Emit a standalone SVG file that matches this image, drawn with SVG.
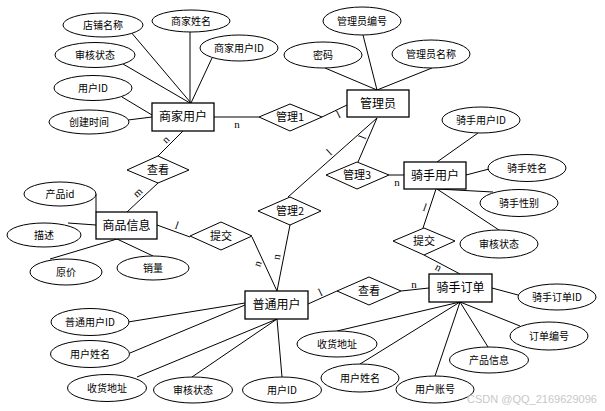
<svg xmlns="http://www.w3.org/2000/svg" width="605" height="411" viewBox="0 0 605 411">
<style>
  .bg { fill: #ffffff; }
  .ent rect { fill: #ffffff; stroke: #000000; stroke-width: 1.3; }
  .rel polygon { fill: #ffffff; stroke: #000000; stroke-width: 1; }
  .attr ellipse { fill: #ffffff; stroke: #000000; stroke-width: 1; }
  .conn line { stroke: #000000; stroke-width: 1; }
  text { font-family: "Noto Sans CJK SC", "Noto Sans", sans-serif; fill: #000000; text-anchor: middle; }
  .ent text { font-size: 12px; }
  .rel text { font-size: 11px; }
  .attr text { font-size: 10px; }
  .card { font-family: "Liberation Serif", serif; font-size: 11px; }
  .wm { font-family: "Liberation Sans", sans-serif; font-size: 11px; fill: #c8c8c8; }
</style>
<rect class="bg" x="0" y="0" width="605" height="411"/>

<g id="connectors" class="conn">
  <!-- 商家用户 attributes -->
  <line x1="130" y1="31" x2="191" y2="103"/>
  <line x1="190" y1="32" x2="190" y2="103"/>
  <line x1="123" y1="64" x2="190" y2="103"/>
  <line x1="212" y1="58" x2="191" y2="103"/>
  <line x1="122" y1="97" x2="152" y2="115"/>
  <line x1="128" y1="120" x2="152" y2="117"/>
  <!-- 管理员 attributes -->
  <line x1="325" y1="68" x2="377" y2="90"/>
  <line x1="363" y1="35" x2="377" y2="90"/>
  <line x1="432" y1="68" x2="377" y2="90"/>
  <!-- relationships -->
  <line x1="214" y1="117" x2="259" y2="117"/>
  <line x1="322" y1="117" x2="347" y2="105"/>
  <line x1="377" y1="118" x2="288" y2="197"/>
  <line x1="377" y1="118" x2="358" y2="162"/>
  <line x1="389" y1="175" x2="404" y2="175"/>
  <line x1="183" y1="131" x2="158" y2="156"/>
  <line x1="158" y1="183" x2="127" y2="212"/>
  <line x1="157" y1="225" x2="190" y2="237"/>
  <line x1="252" y1="237" x2="277" y2="291"/>
  <line x1="290" y1="225" x2="277" y2="291"/>
  <line x1="308" y1="304" x2="337" y2="291"/>
  <line x1="401" y1="291" x2="429" y2="288"/>
  <line x1="436" y1="189" x2="423" y2="228"/>
  <line x1="424" y1="255" x2="460" y2="274"/>
  <!-- 商品信息 attributes -->
  <line x1="96" y1="194" x2="96" y2="212"/>
  <line x1="68" y1="223" x2="96" y2="225"/>
  <line x1="50" y1="259" x2="117" y2="239"/>
  <line x1="117" y1="239" x2="153" y2="256"/>
  <!-- 普通用户 attributes -->
  <line x1="128" y1="322" x2="245" y2="303"/>
  <line x1="130" y1="353" x2="245" y2="305"/>
  <line x1="137" y1="377" x2="277" y2="319"/>
  <line x1="192" y1="377" x2="277" y2="319"/>
  <line x1="277" y1="319" x2="282" y2="377"/>
  <!-- 骑手用户 attributes -->
  <line x1="478" y1="133" x2="437" y2="162"/>
  <line x1="466" y1="175" x2="489" y2="169"/>
  <line x1="437" y1="189" x2="493" y2="192"/>
  <line x1="437" y1="189" x2="502" y2="232"/>
  <!-- 骑手订单 attributes -->
  <line x1="492" y1="288" x2="518" y2="295"/>
  <line x1="460" y1="302" x2="520" y2="326"/>
  <line x1="460" y1="302" x2="488" y2="347"/>
  <line x1="460" y1="302" x2="337" y2="331"/>
  <line x1="460" y1="302" x2="360" y2="364"/>
  <line x1="460" y1="302" x2="435" y2="376"/>
  <!-- cardinalities -->
  <text class="card" x="237" y="128">n</text>
  <text class="card" x="338" y="118" transform="rotate(-26 338 114)">l</text>
  <text class="card" x="329" y="156" transform="rotate(-42 329 152)">l</text>
  <text class="card" x="362" y="141" transform="rotate(-67 362 137)">l</text>
  <text class="card" x="397" y="186">n</text>
  <text class="card" x="166" y="143" transform="rotate(-45 166 140)">n</text>
  <text class="card" x="138" y="196" transform="rotate(-43 138 193)">m</text>
  <text class="card" x="177" y="229" transform="rotate(20 177 225)">l</text>
  <text class="card" x="258" y="267" transform="rotate(-70 258 264)">n</text>
  <text class="card" x="277" y="260" transform="rotate(-79 277 257)">n</text>
  <text class="card" x="320" y="296" transform="rotate(-26 320 292)">l</text>
  <text class="card" x="414" y="288">n</text>
  <text class="card" x="425" y="211" transform="rotate(20 425 207)">l</text>
  <text class="card" x="438" y="271" transform="rotate(28 438 268)">n</text>
</g>

<!-- entities -->
<g id="merchant" class="ent"><rect x="152" y="103" width="62" height="28"/><text x="183" y="121">商家用户</text></g>
<g id="admin" class="ent"><rect x="347" y="90" width="62" height="27"/><text x="378" y="108">管理员</text></g>
<g id="rider" class="ent"><rect x="404" y="162" width="62" height="27"/><text x="435" y="180">骑手用户</text></g>
<g id="product" class="ent"><rect x="96" y="212" width="61" height="27"/><text x="126.5" y="230">商品信息</text></g>
<g id="user" class="ent"><rect x="245" y="291" width="63" height="28"/><text x="276.5" y="309">普通用户</text></g>
<g id="order" class="ent"><rect x="429" y="274" width="63" height="28"/><text x="460.5" y="292">骑手订单</text></g>

<!-- relationships -->
<g id="rel-manage1" class="rel"><polygon points="259,117 290,104 322,117 290,131"/><text x="290" y="121">管理1</text></g>
<g id="rel-view1" class="rel"><polygon points="127,170 158,156 189,170 158,183"/><text x="158" y="174">查看</text></g>
<g id="rel-manage3" class="rel"><polygon points="326,175 357,162 389,175 357,189"/><text x="357" y="179">管理3</text></g>
<g id="rel-manage2" class="rel"><polygon points="258,211 290,197 321,211 290,225"/><text x="290" y="215">管理2</text></g>
<g id="rel-submit1" class="rel"><polygon points="190,236 221,222 252,236 221,250"/><text x="221" y="240">提交</text></g>
<g id="rel-submit2" class="rel"><polygon points="393,241 424,228 455,241 424,255"/><text x="424" y="245">提交</text></g>
<g id="rel-view2" class="rel"><polygon points="337,291 369,277 401,291 369,305"/><text x="369" y="295">查看</text></g>

<!-- attributes -->
<g id="a-shopname" class="attr"><ellipse cx="103" cy="25" rx="40" ry="12"/><text x="103" y="28.5">店铺名称</text></g>
<g id="a-mername" class="attr"><ellipse cx="191" cy="21" rx="39" ry="11"/><text x="191" y="24.5">商家姓名</text></g>
<g id="a-merstatus" class="attr"><ellipse cx="95" cy="55" rx="40" ry="12.5"/><text x="95" y="58.5">审核状态</text></g>
<g id="a-merid" class="attr"><ellipse cx="239" cy="48" rx="39" ry="13"/><text x="239" y="51.5">商家用户ID</text></g>
<g id="a-meruid" class="attr"><ellipse cx="93" cy="88" rx="39" ry="12.5"/><text x="93" y="91.5">用户ID</text></g>
<g id="a-created" class="attr"><ellipse cx="89" cy="122" rx="40" ry="12"/><text x="89" y="125.5">创建时间</text></g>

<g id="a-pwd" class="attr"><ellipse cx="323" cy="55" rx="39" ry="13"/><text x="323" y="58.5">密码</text></g>
<g id="a-adminno" class="attr"><ellipse cx="362" cy="21" rx="39" ry="14"/><text x="362" y="24.5">管理员编号</text></g>
<g id="a-adminname" class="attr"><ellipse cx="431" cy="54" rx="39" ry="14"/><text x="431" y="57.5">管理员名称</text></g>

<g id="a-riderid" class="attr"><ellipse cx="481" cy="120" rx="39" ry="13"/><text x="481" y="123.5">骑手用户ID</text></g>
<g id="a-ridername" class="attr"><ellipse cx="527" cy="168" rx="39" ry="13.5"/><text x="527" y="171.5">骑手姓名</text></g>
<g id="a-ridersex" class="attr"><ellipse cx="519" cy="203" rx="39" ry="13.5"/><text x="519" y="206.5">骑手性别</text></g>
<g id="a-riderstatus" class="attr"><ellipse cx="499" cy="244" rx="39" ry="14"/><text x="499" y="247.5">审核状态</text></g>

<g id="a-pid" class="attr"><ellipse cx="60" cy="194" rx="36" ry="12"/><text x="60" y="197.5">产品id</text></g>
<g id="a-desc" class="attr"><ellipse cx="44" cy="235" rx="37" ry="12"/><text x="44" y="238.5">描述</text></g>
<g id="a-price" class="attr"><ellipse cx="66" cy="272" rx="36" ry="13"/><text x="66" y="275.5">原价</text></g>
<g id="a-sales" class="attr"><ellipse cx="153" cy="268" rx="36" ry="12"/><text x="153" y="271.5">销量</text></g>

<g id="a-userid" class="attr"><ellipse cx="90" cy="322" rx="39" ry="13.5"/><text x="90" y="325.5">普通用户ID</text></g>
<g id="a-username" class="attr"><ellipse cx="90" cy="354" rx="39.5" ry="13.5"/><text x="90" y="357.5">用户姓名</text></g>
<g id="a-useraddr" class="attr"><ellipse cx="107" cy="388" rx="39.5" ry="13.5"/><text x="107" y="391.5">收货地址</text></g>
<g id="a-userstatus" class="attr"><ellipse cx="193" cy="390" rx="39.5" ry="13"/><text x="193" y="393.5">审核状态</text></g>
<g id="a-useruid" class="attr"><ellipse cx="282" cy="390" rx="39.5" ry="13"/><text x="282" y="393.5">用户ID</text></g>

<g id="a-orderid" class="attr"><ellipse cx="557" cy="297" rx="39" ry="13"/><text x="557" y="300.5">骑手订单ID</text></g>
<g id="a-orderno" class="attr"><ellipse cx="549" cy="336" rx="39" ry="14"/><text x="549" y="339.5">订单编号</text></g>
<g id="a-prodinfo" class="attr"><ellipse cx="489" cy="360" rx="39.5" ry="13"/><text x="489" y="363.5">产品信息</text></g>
<g id="a-orderaddr" class="attr"><ellipse cx="337" cy="344" rx="40" ry="13"/><text x="337" y="347.5">收货地址</text></g>
<g id="a-ordername" class="attr"><ellipse cx="360" cy="378" rx="39" ry="14"/><text x="360" y="381.5">用户姓名</text></g>
<g id="a-orderacct" class="attr"><ellipse cx="435" cy="389.5" rx="39" ry="13.5"/><text x="435" y="393">用户账号</text></g>

<text class="wm" x="532" y="403">CSDN @QQ_2169629096</text>
</svg>
